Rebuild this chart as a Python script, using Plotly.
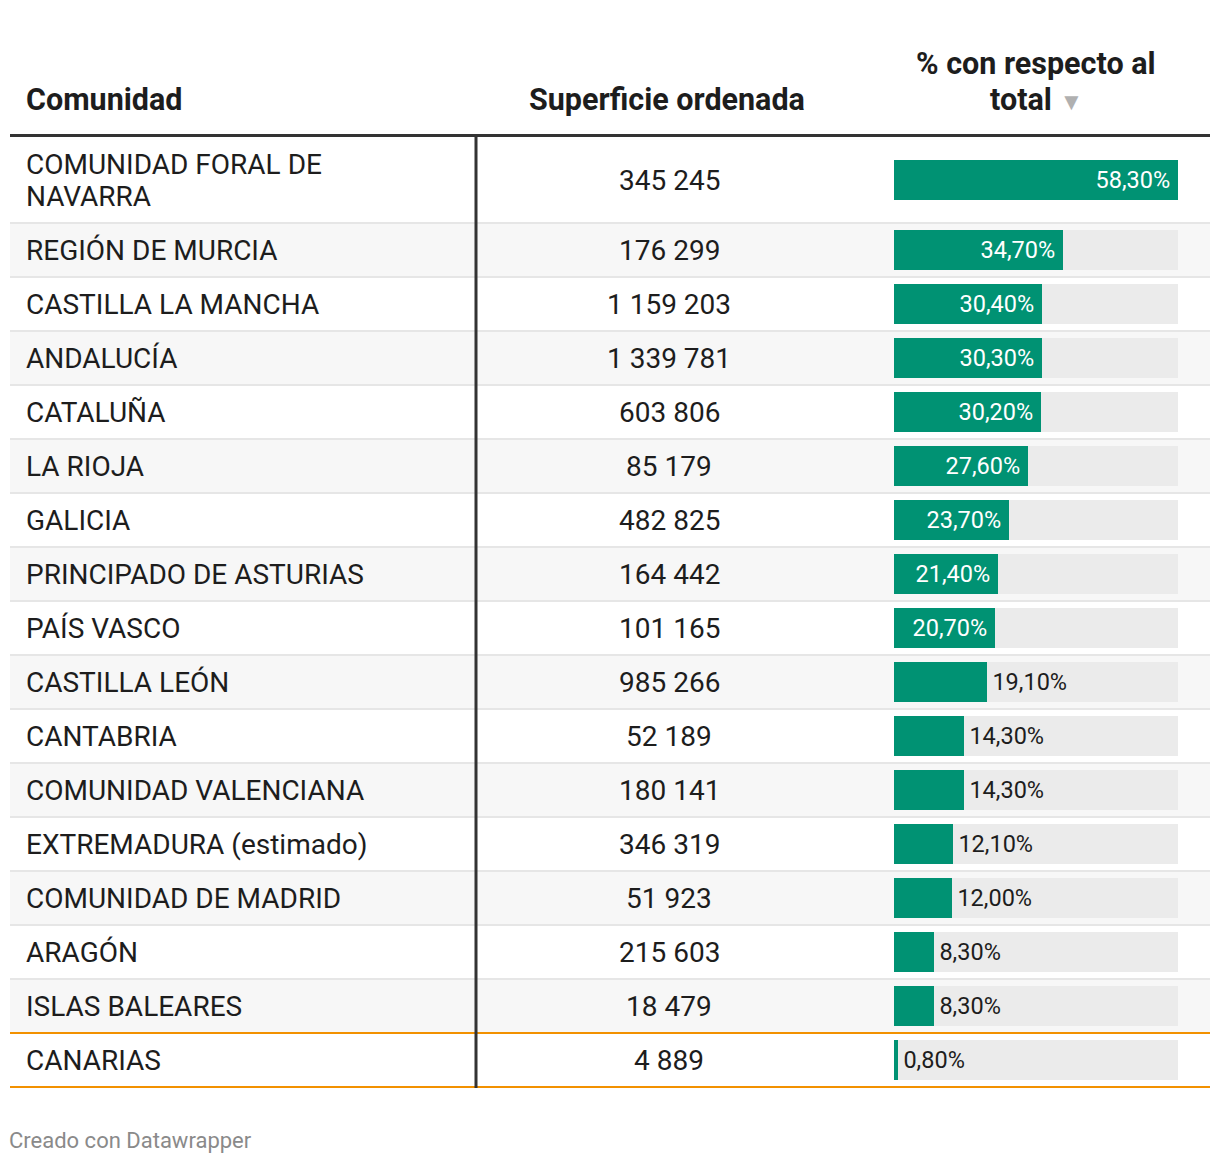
import plotly.graph_objects as go

# ---------------- data ----------------
comunidades = [
    "COMUNIDAD FORAL DE<br>NAVARRA", "REGIÓN DE MURCIA", "CASTILLA LA MANCHA", "ANDALUCÍA",
    "CATALUÑA", "LA RIOJA", "GALICIA", "PRINCIPADO DE ASTURIAS", "PAÍS VASCO",
    "CASTILLA LEÓN", "CANTABRIA", "COMUNIDAD VALENCIANA", "EXTREMADURA (estimado)",
    "COMUNIDAD DE MADRID", "ARAGÓN", "ISLAS BALEARES", "CANARIAS",
]
superficie = [345245, 176299, 1159203, 1339781, 603806, 85179, 482825, 164442, 101165,
              985266, 52189, 180141, 346319, 51923, 215603, 18479, 4889]
porcentaje = [58.3, 34.7, 30.4, 30.3, 30.2, 27.6, 23.7, 21.4, 20.7,
              19.1, 14.3, 14.3, 12.1, 12.0, 8.3, 8.3, 0.8]
headers = ["Comunidad", "Superficie ordenada", "% con respecto al", "total"]

# ---------------- layout constants ----------------
W, H = 1220, 1164
LEFT, RIGHT = 10, 1210
HEADER_BOTTOM = 137
row_heights = [86] + [54] * (len(comunidades) - 1)
COL_SPLIT = 476
BAR_X0, BAR_X1 = 894, 1178
LINE_GAP = 32
FONT = "Roboto, 'Noto Sans', sans-serif"
TXT = "#1d1d1d"
GREEN = "#009273"
TRACK = "#ebebeb"
THIN = "\u2009"
HAIR = "\u200a"

tops = []
acc = HEADER_BOTTOM
for h in row_heights:
    tops.append(acc)
    acc += h
bottom = acc
centers = [t + h / 2 for t, h in zip(tops, row_heights)]

fmt_num = lambda v: f"{v:,}".replace(",", " ")
fmt_pct = lambda v: f"{v:.2f}".replace(".", ",") + "%"

shapes = []
for i, (t, h) in enumerate(zip(tops, row_heights)):
    if i % 2 == 1:
        shapes.append(dict(type="rect", xref="x", yref="y", x0=LEFT, x1=RIGHT, y0=t, y1=t + h,
                           fillcolor="#f7f7f7", line_width=0, layer="below"))
n = len(comunidades)
for i in range(1, n + 1):
    y = tops[i] if i < n else bottom
    is_orange = i >= n - 1
    shapes.append(dict(type="line", xref="x", yref="y", x0=LEFT, x1=RIGHT, y0=y, y1=y,
                       line=dict(color="#f29100" if is_orange else "#e6e6e6", width=2), layer="below"))
shapes.append(dict(type="line", xref="x", yref="y", x0=LEFT, x1=RIGHT, y0=HEADER_BOTTOM - 1.5,
                   y1=HEADER_BOTTOM - 1.5, line=dict(color="#333333", width=3)))
shapes.append(dict(type="line", xref="x", yref="y", x0=COL_SPLIT, x1=COL_SPLIT, y0=HEADER_BOTTOM,
                   y1=bottom + 1, line=dict(color="#333333", width=3)))

fig = go.Figure()

fig.add_trace(go.Bar(
    x=[max(porcentaje)] * n, y=centers, orientation="h", width=40,
    marker=dict(color=TRACK, line_width=0), xaxis="x2", yaxis="y",
    hoverinfo="skip", showlegend=False,
))
inside = [v >= 20 for v in porcentaje]
positions = ["inside" if f else "outside" for f in inside]
labels = [fmt_pct(v) + THIN if f else HAIR + fmt_pct(v) for v, f in zip(porcentaje, inside)]
fig.add_trace(go.Bar(
    x=porcentaje, y=centers, orientation="h", width=40,
    marker=dict(color=GREEN, line_width=0), xaxis="x2", yaxis="y",
    text=labels, textposition=positions,
    insidetextanchor="end", constraintext="none", cliponaxis=False,
    insidetextfont=dict(family=FONT, size=23.5, color="white"),
    outsidetextfont=dict(family=FONT, size=23.5, color=TXT),
    showlegend=False, hoverinfo="skip",
))

annotations = []
bfont = dict(family=FONT, size=28, color=TXT)
for name, num, cy in zip(comunidades, superficie, centers):
    lines = name.split("<br>")
    off0 = -(len(lines) - 1) * LINE_GAP / 2
    for k, line in enumerate(lines):
        annotations.append(dict(x=24, y=cy + off0 + k * LINE_GAP, xref="x", yref="y", text=line,
                                showarrow=False, xanchor="left", yanchor="middle", font=bfont))
    annotations.append(dict(x=669, y=cy, xref="x", yref="y", text=fmt_num(num), showarrow=False,
                            xanchor="center", yanchor="middle", font=bfont))

hfont = dict(family=FONT, size=30.5, color=TXT)
annotations.append(dict(x=24, y=99, xref="x", yref="y", text=f"<b>{headers[0]}</b>", showarrow=False,
                        xanchor="left", yanchor="middle", font=hfont))
annotations.append(dict(x=667, y=99, xref="x", yref="y", text=f"<b>{headers[1]}</b>", showarrow=False,
                        xanchor="center", yanchor="middle", font=hfont))
annotations.append(dict(x=1036, y=63, xref="x", yref="y", text=f"<b>{headers[2]}</b>",
                        showarrow=False, xanchor="center", yanchor="middle", font=hfont))
annotations.append(dict(x=1036, y=99, xref="x", yref="y",
                        text=f"<b>{headers[3]}</b> <span style='color:#b0b0b0;font-size:24px'>▼</span>",
                        showarrow=False, xanchor="center", yanchor="middle", font=hfont))
annotations.append(dict(x=7, y=1140, xref="x", yref="y", text="Creado con Datawrapper", showarrow=False,
                        xanchor="left", yanchor="middle", font=dict(family=FONT, size=22, color="#8a8a8a")))

fig.update_layout(
    width=W, height=H, autosize=False,
    margin=dict(l=0, r=0, t=0, b=0),
    paper_bgcolor="white", plot_bgcolor="rgba(0,0,0,0)",
    barmode="overlay", bargap=0,
    xaxis=dict(range=[0, W], visible=False, fixedrange=True, domain=[0, 1]),
    yaxis=dict(range=[H, 0], visible=False, fixedrange=True, domain=[0, 1]),
    xaxis2=dict(range=[0, max(porcentaje)], domain=[BAR_X0 / W, BAR_X1 / W], anchor="y",
                visible=False, fixedrange=True),
    shapes=shapes, annotations=annotations,
)

fig.write_html("out.html", config=dict(displayModeBar=False),
               post_script="document.body.style.margin='0';document.body.style.padding='0';")
